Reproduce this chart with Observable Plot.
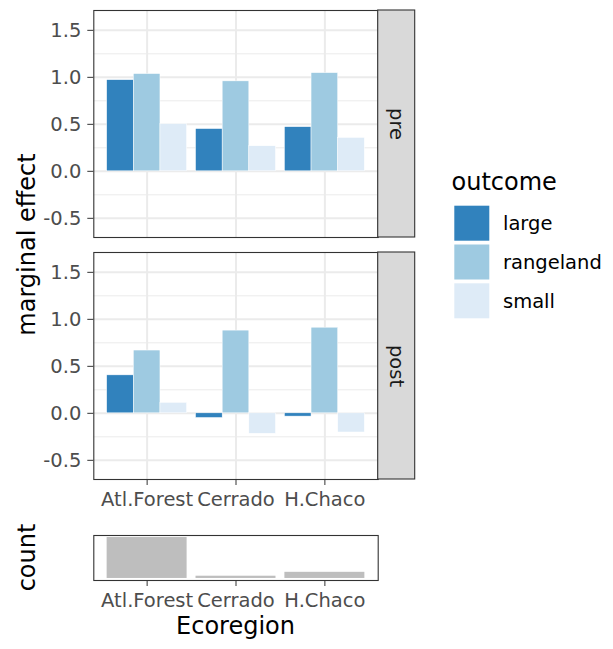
<!DOCTYPE html>
<html><head><meta charset="utf-8">
<script src="https://cdn.jsdelivr.net/npm/d3@7"></script>
<script src="https://cdn.jsdelivr.net/npm/@observablehq/plot@0.6"></script>
<style>
body{margin:0;background:#fff;font-family:"DejaVu Sans",sans-serif;}
#chart{position:relative;width:613px;height:649px;overflow:hidden;background:#fff;}
#chart > svg, #chart > div{position:absolute;}
</style></head><body><div id="chart"></div>
<script>
// ---- data ----
const ecoregions = ["Atl.Forest", "Cerrado", "H.Chaco"];
const outcomes = ["large", "rangeland", "small"];
const periods = ["pre", "post"];
const preLarge = [0.97, 0.45, 0.47];
const preRangeland = [1.035, 0.957, 1.045];
const preSmall = [0.503, 0.267, 0.356];
const postLarge = [0.404, -0.05, -0.035];
const postRangeland = [0.668, 0.88, 0.911];
const postSmall = [0.112, -0.218, -0.204];
const counts = [1000, 55, 150];
const colors = ["#3182bd", "#9ecae1", "#deebf7"];
const yTicks = [-0.5, 0, 0.5, 1, 1.5];
const yMinorTicks = [-0.25, 0.25, 0.75, 1.25];

// ---- build table ----
const rows = [];
periods.forEach((p, pi) => {
  const series = pi === 0 ? [preLarge, preRangeland, preSmall] : [postLarge, postRangeland, postSmall];
  ecoregions.forEach((e, i) => outcomes.forEach((o, j) => {
    rows.push({period: p, ecoregion: e, outcome: o, value: series[j][i],
      x1: i + 1 - 0.45 + j * 0.3, x2: i + 1 - 0.45 + (j + 1) * 0.3});
  }));
});
const countRows = ecoregions.map((e, i) => ({ecoregion: e, count: counts[i], x1: i + 1 - 0.45, x2: i + 1 + 0.45}));

const xDomain = [0.4, 3.6];
const yDomain = [-0.704, 1.711];
const W = 420, L = 93.3, R = W - 377.7;
const FS = "19.5px";
const font = "DejaVu Sans";
const root = document.getElementById("chart");

const main = Plot.plot({
  width: W, height: 512,
  marginLeft: L, marginRight: R, marginTop: 9, marginBottom: 32,
  style: {fontFamily: font, fontSize: FS, background: "transparent", overflow: "visible"},
  x: {domain: xDomain},
  y: {domain: yDomain},
  fy: {domain: periods, axis: null, paddingInner: 0.06, paddingOuter: 0},
  color: {domain: outcomes, range: colors},
  marks: [
    Plot.gridY(yMinorTicks, {stroke: "#ebebeb", strokeOpacity: 1, strokeWidth: 1}),
    Plot.gridY(yTicks, {stroke: "#ebebeb", strokeOpacity: 1, strokeWidth: 2}),
    Plot.gridX([1, 2, 3], {stroke: "#ebebeb", strokeOpacity: 1, strokeWidth: 2}),
    Plot.rect(rows, {x1: "x1", x2: "x2", y1: 0, y2: "value", fill: "outcome", fy: "period", stroke: "white", strokeWidth: 0.5}),
    Plot.frame({stroke: "#333", strokeWidth: 1.1}),
    Plot.rect(periods, {fy: d => d, x1: xDomain[1], x2: xDomain[1], y1: yDomain[0], y2: yDomain[1], insetRight: -37, fill: "#d9d9d9", stroke: "#333", strokeWidth: 1.1}),
    Plot.text(periods, {fy: d => d, text: d => d, x: xDomain[1], y: (yDomain[0] + yDomain[1]) / 2, dx: 18.5, rotate: 90, fill: "#1a1a1a"}),
    Plot.axisY({ticks: yTicks, tickFormat: d => d.toFixed(1), tickSize: 6, tickPadding: 6.5, stroke: "#333", fill: "#4d4d4d", label: null}),
    Plot.axisX({ticks: [1, 2, 3], tickFormat: d => ecoregions[d - 1], tickSize: 6, tickPadding: 6.5, stroke: "#333", fill: "#4d4d4d", label: null})
  ]
});
main.style.left = "0px"; main.style.top = "0px";
root.appendChild(main);

const maxC = d3.max(counts);
const countPlot = Plot.plot({
  width: W, height: 137,
  marginLeft: L, marginRight: R, marginTop: 23, marginBottom: 69,
  style: {fontFamily: font, fontSize: FS, background: "transparent", overflow: "visible"},
  x: {domain: xDomain},
  y: {domain: [-0.05 * maxC, 1.05 * maxC], axis: null},
  marks: [
    Plot.rect(countRows, {x1: "x1", x2: "x2", y1: 0, y2: "count", fill: "#bebebe"}),
    Plot.frame({stroke: "#333", strokeWidth: 1.1}),
    Plot.axisX({ticks: [1, 2, 3], tickFormat: d => ecoregions[d - 1], tickSize: 6, tickPadding: 6.5, stroke: "#333", fill: "#4d4d4d", label: null})
  ]
});
countPlot.style.left = "0px"; countPlot.style.top = "512px";
root.appendChild(countPlot);

// ---- titles and legend overlay ----
const ov = d3.select(root).append("svg")
  .attr("width", 613).attr("height", 649)
  .style("left", "0px").style("top", "0px")
  .style("font-family", font).style("pointer-events", "none");

ov.append("text").attr("transform", "translate(35,244.5) rotate(-90)")
  .attr("text-anchor", "middle").attr("font-size", "24px").attr("fill", "#000").text("marginal effect");
ov.append("text").attr("transform", "translate(35,557.5) rotate(-90)")
  .attr("text-anchor", "middle").attr("font-size", "24px").attr("fill", "#000").text("count");
ov.append("text").attr("x", 235.5).attr("y", 634)
  .attr("text-anchor", "middle").attr("font-size", "24px").attr("fill", "#000").text("Ecoregion");

ov.append("text").attr("x", 451.5).attr("y", 190)
  .attr("font-size", "24px").attr("fill", "#000").text("outcome");
outcomes.forEach((o, k) => {
  const y0 = 205.7 + k * 38.8;
  ov.append("rect").attr("x", 454.3).attr("y", y0).attr("width", 35).attr("height", 35).attr("fill", colors[k]);
  ov.append("text").attr("x", 503).attr("y", y0 + 17.5).attr("dy", "0.35em")
    .attr("font-size", FS).attr("fill", "#000").text(o);
});
</script></body></html>
